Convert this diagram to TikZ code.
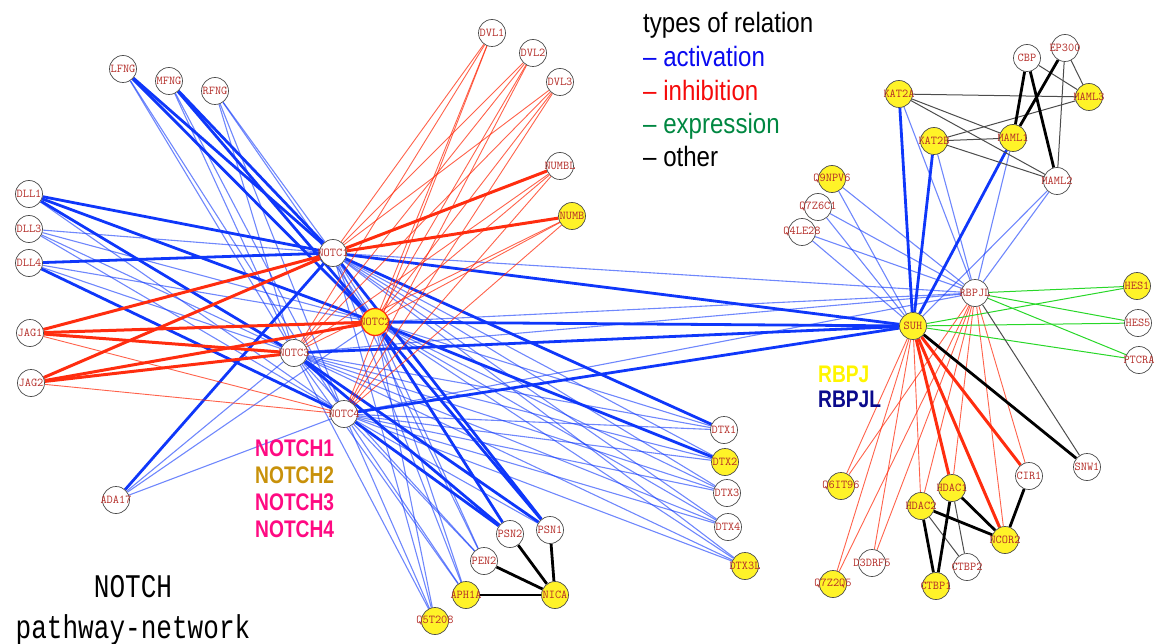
\documentclass[tikz,border=0pt]{standalone}
\usepackage{fontspec}
\newfontfamily\legendfont[FakeStretch=0.86]{Liberation Sans}
\newfontfamily\tagfont[FakeStretch=0.8]{Liberation Sans}
\newfontfamily\titlefont[FakeStretch=0.79]{Liberation Mono}
\definecolor{actblue}{RGB}{15,55,250}
\definecolor{inhred}{RGB}{255,45,15}
\definecolor{expgreen}{RGB}{40,215,40}
\definecolor{lgblue}{RGB}{10,10,240}
\definecolor{lgred}{RGB}{245,10,10}
\definecolor{lggreen}{RGB}{0,135,65}
\definecolor{genetxt}{RGB}{180,45,40}
\definecolor{hityellow}{RGB}{255,243,40}
\definecolor{notchpink}{RGB}{255,10,130}
\definecolor{notchgold}{RGB}{200,145,10}
\definecolor{rbpjyellow}{RGB}{255,245,0}
\definecolor{rbpjlnavy}{RGB}{10,10,140}
\pgfdeclarelayer{edges}
\pgfsetlayers{edges,main}
\tikzset{
  gene/.style={circle, draw=black!70, line width=0.7pt, fill=white,
    minimum size=27pt, inner sep=0pt, text=genetxt,
    font=\ttfamily\fontsize{12}{12}\selectfont},
  hit/.style={gene, fill=hityellow},
  actthin/.style={draw=actblue, line width=1.1pt, opacity=0.6},
  actthick/.style={draw=actblue, line width=2.8pt},
  inhthin/.style={draw=inhred, line width=0.9pt, opacity=0.75},
  inhthick/.style={draw=inhred, line width=3pt},
  expline/.style={draw=expgreen, line width=1pt},
  oththin/.style={draw=black!70, line width=1pt},
  oththick/.style={draw=black, line width=2.8pt},
  txt/.style={inner sep=0pt, anchor=base west},
}
\begin{document}
\begin{tikzpicture}[x=1pt,y=-1pt]
\useasboundingbox (0,0) rectangle (1155,644);

% ---- genes without a hit
\foreach \n/\x/\y/\t in {
  lfng/123/69/LFNG, mfng/169/81/MFNG, rfng/215/91/RFNG,
  dvl1/492/33/DVL1, dvl2/533/53/DVL2, dvl3/560/82/DVL3, numbl/560/166/NUMBL,
  dll1/29/194/DLL1, dll3/29/229/DLL3, dll4/29/263/DLL4,
  jag1/30/333/JAG1, jag2/31/383/JAG2,
  n1/333/253/NOTC1, n3/294/353/NOTC3, n4/344/414/NOTC4,
  ada17/116/500/ADA17,
  dtx1/724/430/DTX1, dtx3/727/493/DTX3, dtx4/728/527/DTX4,
  psn2/510/534/PSN2, psn1/550/530/PSN1, pen2/484/561/PEN2,
  rbpjl/975/293/RBPJL, hes5/1138/323/HES5, ptcra/1139/360/PTCRA,
  cbp/1027/58/CBP, ep300/1065/48/EP300, maml2/1057/181/MAML2,
  q7z6c1/818/207/Q7Z6C1, q4le28/802/232/Q4LE28,
  d3drf5/872/563/D3DRF5, cir1/1029/476/CIR1, snw1/1087/467/SNW1,
  ctbp2/967/567/CTBP2}
  \node[gene] (\n) at (\x,\y) {\makebox[0pt]{\t}};

% ---- genes with a hit
\foreach \n/\x/\y/\t in {
  numb/572/216/NUMB, dtx2/725/462/DTX2, dtx3l/745/566/DTX3L,
  aph1a/466/595/APH1A, nica/555/595/NICA, q5t208/435/621/Q5T208,
  suh/913/326/SUH, hes1/1137/286/HES1,
  kat2a/899/94/KAT2A, kat2b/934/141/KAT2B, maml1/1013/138/MAML1,
  maml3/1089/97/MAML3, q9npv6/832/179/Q9NPV6,
  q6it96/841/486/Q6IT96, q7z2q5/833/584/Q7Z2Q5,
  hdac2/921/506/HDAC2, hdac1/952/488/HDAC1, ncor2/1005/540/NCOR2,
  ctbp1/936/586/CTBP1}
  \node[hit] (\n) at (\x,\y) {\makebox[0pt]{\t}};
\node[hit, draw=inhred, line width=1.3pt] (n2) at (375,322) {\makebox[0pt]{NOTC2}};

\begin{pgfonlayer}{edges}
% activation: upstream partners -> receptors
\foreach \a/\b in {lfng/n3, lfng/n4, mfng/n3, mfng/n4,
  rfng/n1, rfng/n2, rfng/n3, rfng/n4, dll1/n4,
  dll3/n1, dll3/n2, dll3/n3, dll3/n4, dll4/n2, dll4/n3,
  ada17/n2, ada17/n3, ada17/n4}
  \draw[actthin] (\a) -- (\b);
\foreach \a/\b in {lfng/n1, lfng/n2, mfng/n1, mfng/n2,
  dll1/n1, dll1/n2, dll1/n3, dll4/n1, dll4/n4, ada17/n1}
  \draw[actthick] (\a) -- (\b);
% activation: receptors -> deltex and gamma-secretase
\foreach \a in {n1,n2,n3,n4}
  \foreach \b in {dtx1,dtx2,dtx3,dtx4,dtx3l,pen2,aph1a,q5t208}
    \draw[actthin] (\a) -- (\b);
\foreach \a/\b in {n4/psn1, n1/psn2}
  \draw[actthin] (\a) -- (\b);
\foreach \a/\b in {n1/dtx1, n2/dtx2, n1/psn1, n2/psn1, n3/psn1,
  n2/psn2, n3/psn2, n4/psn2}
  \draw[actthick] (\a) -- (\b);
% activation: receptors -> CSL factors
\foreach \a in {n1,n2,n3,n4} {
  \draw[actthick] (\a) -- (suh);
  \draw[actthin] (\a) -- (rbpjl);
}
\foreach \a in {q9npv6,q7z6c1,q4le28,maml2} {
  \draw[actthin] (\a) -- (suh);
  \draw[actthin] (\a) -- (rbpjl);
}
\foreach \a in {kat2a,kat2b,maml1} {
  \draw[actthick] (\a) -- (suh);
  \draw[actthin] (\a) -- (rbpjl);
}
% inhibition
\foreach \a in {dvl1,dvl2,dvl3,numbl,numb}
  \foreach \b in {n1,n2,n3,n4}
    \draw[inhthin] (\a) -- (\b);
\foreach \a/\b in {numbl/n1, numb/n1, jag1/n1, jag1/n2, jag1/n3,
  jag2/n1, jag2/n2, jag2/n3}
  \draw[inhthick] (\a) -- (\b);
\foreach \a/\b in {jag1/n4, jag2/n4}
  \draw[inhthin] (\a) -- (\b);
\foreach \b in {q6it96,q7z2q5,d3drf5,hdac2,hdac1,cir1,ncor2}
  \draw[inhthin] (rbpjl) -- (\b);
\foreach \b in {q6it96,q7z2q5,d3drf5,hdac2}
  \draw[inhthin] (suh) -- (\b);
\foreach \b in {hdac1,cir1,ncor2}
  \draw[inhthick] (suh) -- (\b);
% expression
\foreach \a in {suh,rbpjl}
  \foreach \b in {hes1,hes5,ptcra}
    \draw[expline] (\a) -- (\b);
% other relations
\foreach \a/\b in {kat2a/maml3, kat2a/maml1, kat2a/maml2, kat2b/maml1,
  kat2b/maml3, kat2b/maml2, cbp/maml3, ep300/maml3, ep300/maml2,
  rbpjl/snw1, hdac2/ctbp2, hdac1/ctbp2}
  \draw[oththin] (\a) -- (\b);
\foreach \a/\b in {cbp/maml1, cbp/maml2, ep300/maml1, suh/snw1,
  hdac2/ncor2, hdac1/ncor2, cir1/ncor2, hdac2/ctbp1, hdac1/ctbp1,
  psn2/nica, psn1/nica, pen2/nica, aph1a/nica}
  \draw[oththick] (\a) -- (\b);
\end{pgfonlayer}

% ---- legend
\begin{scope}[every node/.style={txt, font=\legendfont\fontsize{28}{28}\selectfont}]
  \node (lgtitle) at (643,33) {types of relation};
  \node[text=lgblue] (lgact) at (643,67) {– activation};
  \node[text=lgred] (lginh) at (643,101) {– inhibition};
  \node[text=lggreen] (lgexp) at (643,134) {– expression};
  \node (lgoth) at (643,167) {– other};
\end{scope}

% ---- factor names
\begin{scope}[every node/.style={txt, font=\tagfont\bfseries\fontsize{24}{24}\selectfont}]
  \node[text=rbpjyellow] (tagrbpj) at (818,382) {RBPJ};
  \node[text=rbpjlnavy] (tagrbpjl) at (818,407) {RBPJL};
  \node[text=notchpink] (tagn1) at (255,456) {NOTCH1};
  \node[text=notchgold] (tagn2) at (255,483) {NOTCH2};
  \node[text=notchpink] (tagn3) at (255,510) {NOTCH3};
  \node[text=notchpink] (tagn4) at (255,537) {NOTCH4};
\end{scope}

% ---- title
\node[inner sep=0pt, anchor=base, font=\titlefont\fontsize{33}{33}\selectfont] (title1) at (133,597) {NOTCH};
\node[inner sep=0pt, anchor=base, font=\titlefont\fontsize{33}{33}\selectfont] (title2) at (133,638) {pathway-network};
\end{tikzpicture}
\end{document}
